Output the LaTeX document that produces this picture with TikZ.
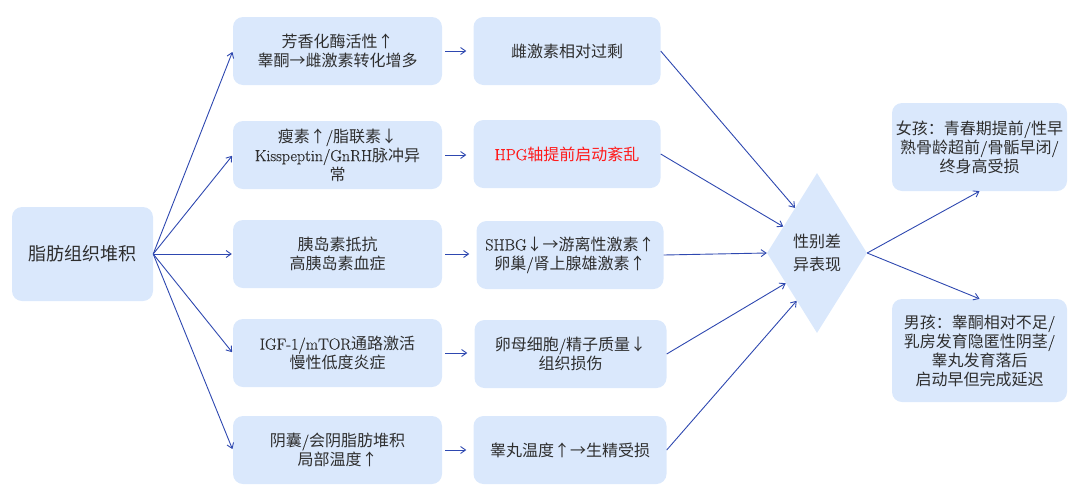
\documentclass[tikz,border=0pt]{standalone}
\usepackage{fontspec}
\newfontfamily\cjk{Noto Sans CJK SC}
\newfontfamily\latf[FakeBold=0.4]{Latin Modern Roman}
\usetikzlibrary{shapes.geometric,arrows.meta}
\definecolor{boxfill}{HTML}{DAE8FC}
\definecolor{arrowc}{HTML}{2E48B0}
\definecolor{txt}{HTML}{2E2E2E}
\definecolor{redtxt}{HTML}{FF1A1A}
\newcommand\lat[1]{{\latf #1}}
\tikzset{
  box/.style={rectangle, rounded corners=10pt, fill=boxfill, draw=none, inner sep=0pt,
    align=center, text=txt, font=\cjk\fontsize{16}{19}\selectfont},
  colA/.style={box, minimum width=209pt, minimum height=68pt},
  colB/.style={box, minimum width=187pt, minimum height=68pt},
  sidebox/.style={box, minimum width=175pt},
  arr/.style={draw=arrowc, line width=0.9pt, -{Straight Barb[length=5pt,width=7pt]}},
}
\begin{document}
\begin{tikzpicture}[x=1pt,y=-1pt]
\useasboundingbox (0,0) rectangle (1080,499);

\node[box, minimum width=141pt, minimum height=94pt, font=\cjk\fontsize{18}{22}\selectfont] (src) at (82.5,254) {脂肪组织堆积};

\node[colA] (a1) at (337.5,51) {芳香化酶活性↑\\睾酮→雌激素转化增多};
\node[colA] (a2) at (337.5,155) {瘦素↑\lat{/}脂联素↓\\\lat{Kisspeptin/GnRH}脉冲异\\常};
\node[colA] (a3) at (337.5,254) {胰岛素抵抗\\高胰岛素血症};
\node[colA] (a4) at (337.5,353) {\lat{IGF-1/mTOR}通路激活\\慢性低度炎症};
\node[colA] (a5) at (337.5,450) {阴囊\lat{/}会阴脂肪堆积\\局部温度↑};

\node[colB] (b1) at (567,51) {雌激素相对过剩};
\node[colB] (b2) at (567,154) {\color{redtxt}\lat{HPG}轴提前启动紊乱};
\node[colB] (b3) at (570,255) {\lat{SHBG}↓→游离性激素↑\\卵巢\lat{/}肾上腺雄激素↑};
\node[colB, minimum width=192pt] (b4) at (570.5,354) {卵母细胞\lat{/}精子质量↓\\组织损伤};
\node[colB, minimum width=193pt] (b5) at (570,450) {睾丸温度↑→生精受损};

\node[diamond, fill=boxfill, inner sep=0pt, aspect=0.625, minimum width=100pt, minimum height=160pt,
  align=center, text=txt, font=\cjk\fontsize{16}{23}\selectfont] (dia) at (817,253) {性别差\\异表现};

\node[sidebox, minimum height=88pt] (girl) at (979.5,147) {女孩：青春期提前\lat{/}性早\\熟骨龄超前\lat{/}骨骺早闭\lat{/}\\终身高受损};
\node[sidebox, minimum height=103pt] (boy) at (979.5,350.5) {男孩：睾酮相对不足\lat{/}\\乳房发育隐匿性阴茎\lat{/}\\睾丸发育落后\\启动早但完成延迟};

\foreach \n in {a1,a2,a3,a4,a5}{
  \draw[arr, shorten >=1pt] (src.east) -- (\n.west);
}
\foreach \i in {1,...,5}{
  \draw[arr, shorten <=3pt, shorten >=7pt] (a\i.east) -- (a\i.east -| b\i.west);
}
\draw[arr] (b1.east) -- (dia.116);
\draw[arr] (b2.east) -- (dia.142);
\draw[arr] (b3.east) -- (dia.180);
\draw[arr] (b4.east) -- (dia.224);
\draw[arr] (b5.east) -- (dia.247);
\draw[arr] (dia.east) -- (girl.south);
\draw[arr] (dia.east) -- (boy.north);
\end{tikzpicture}
\end{document}
